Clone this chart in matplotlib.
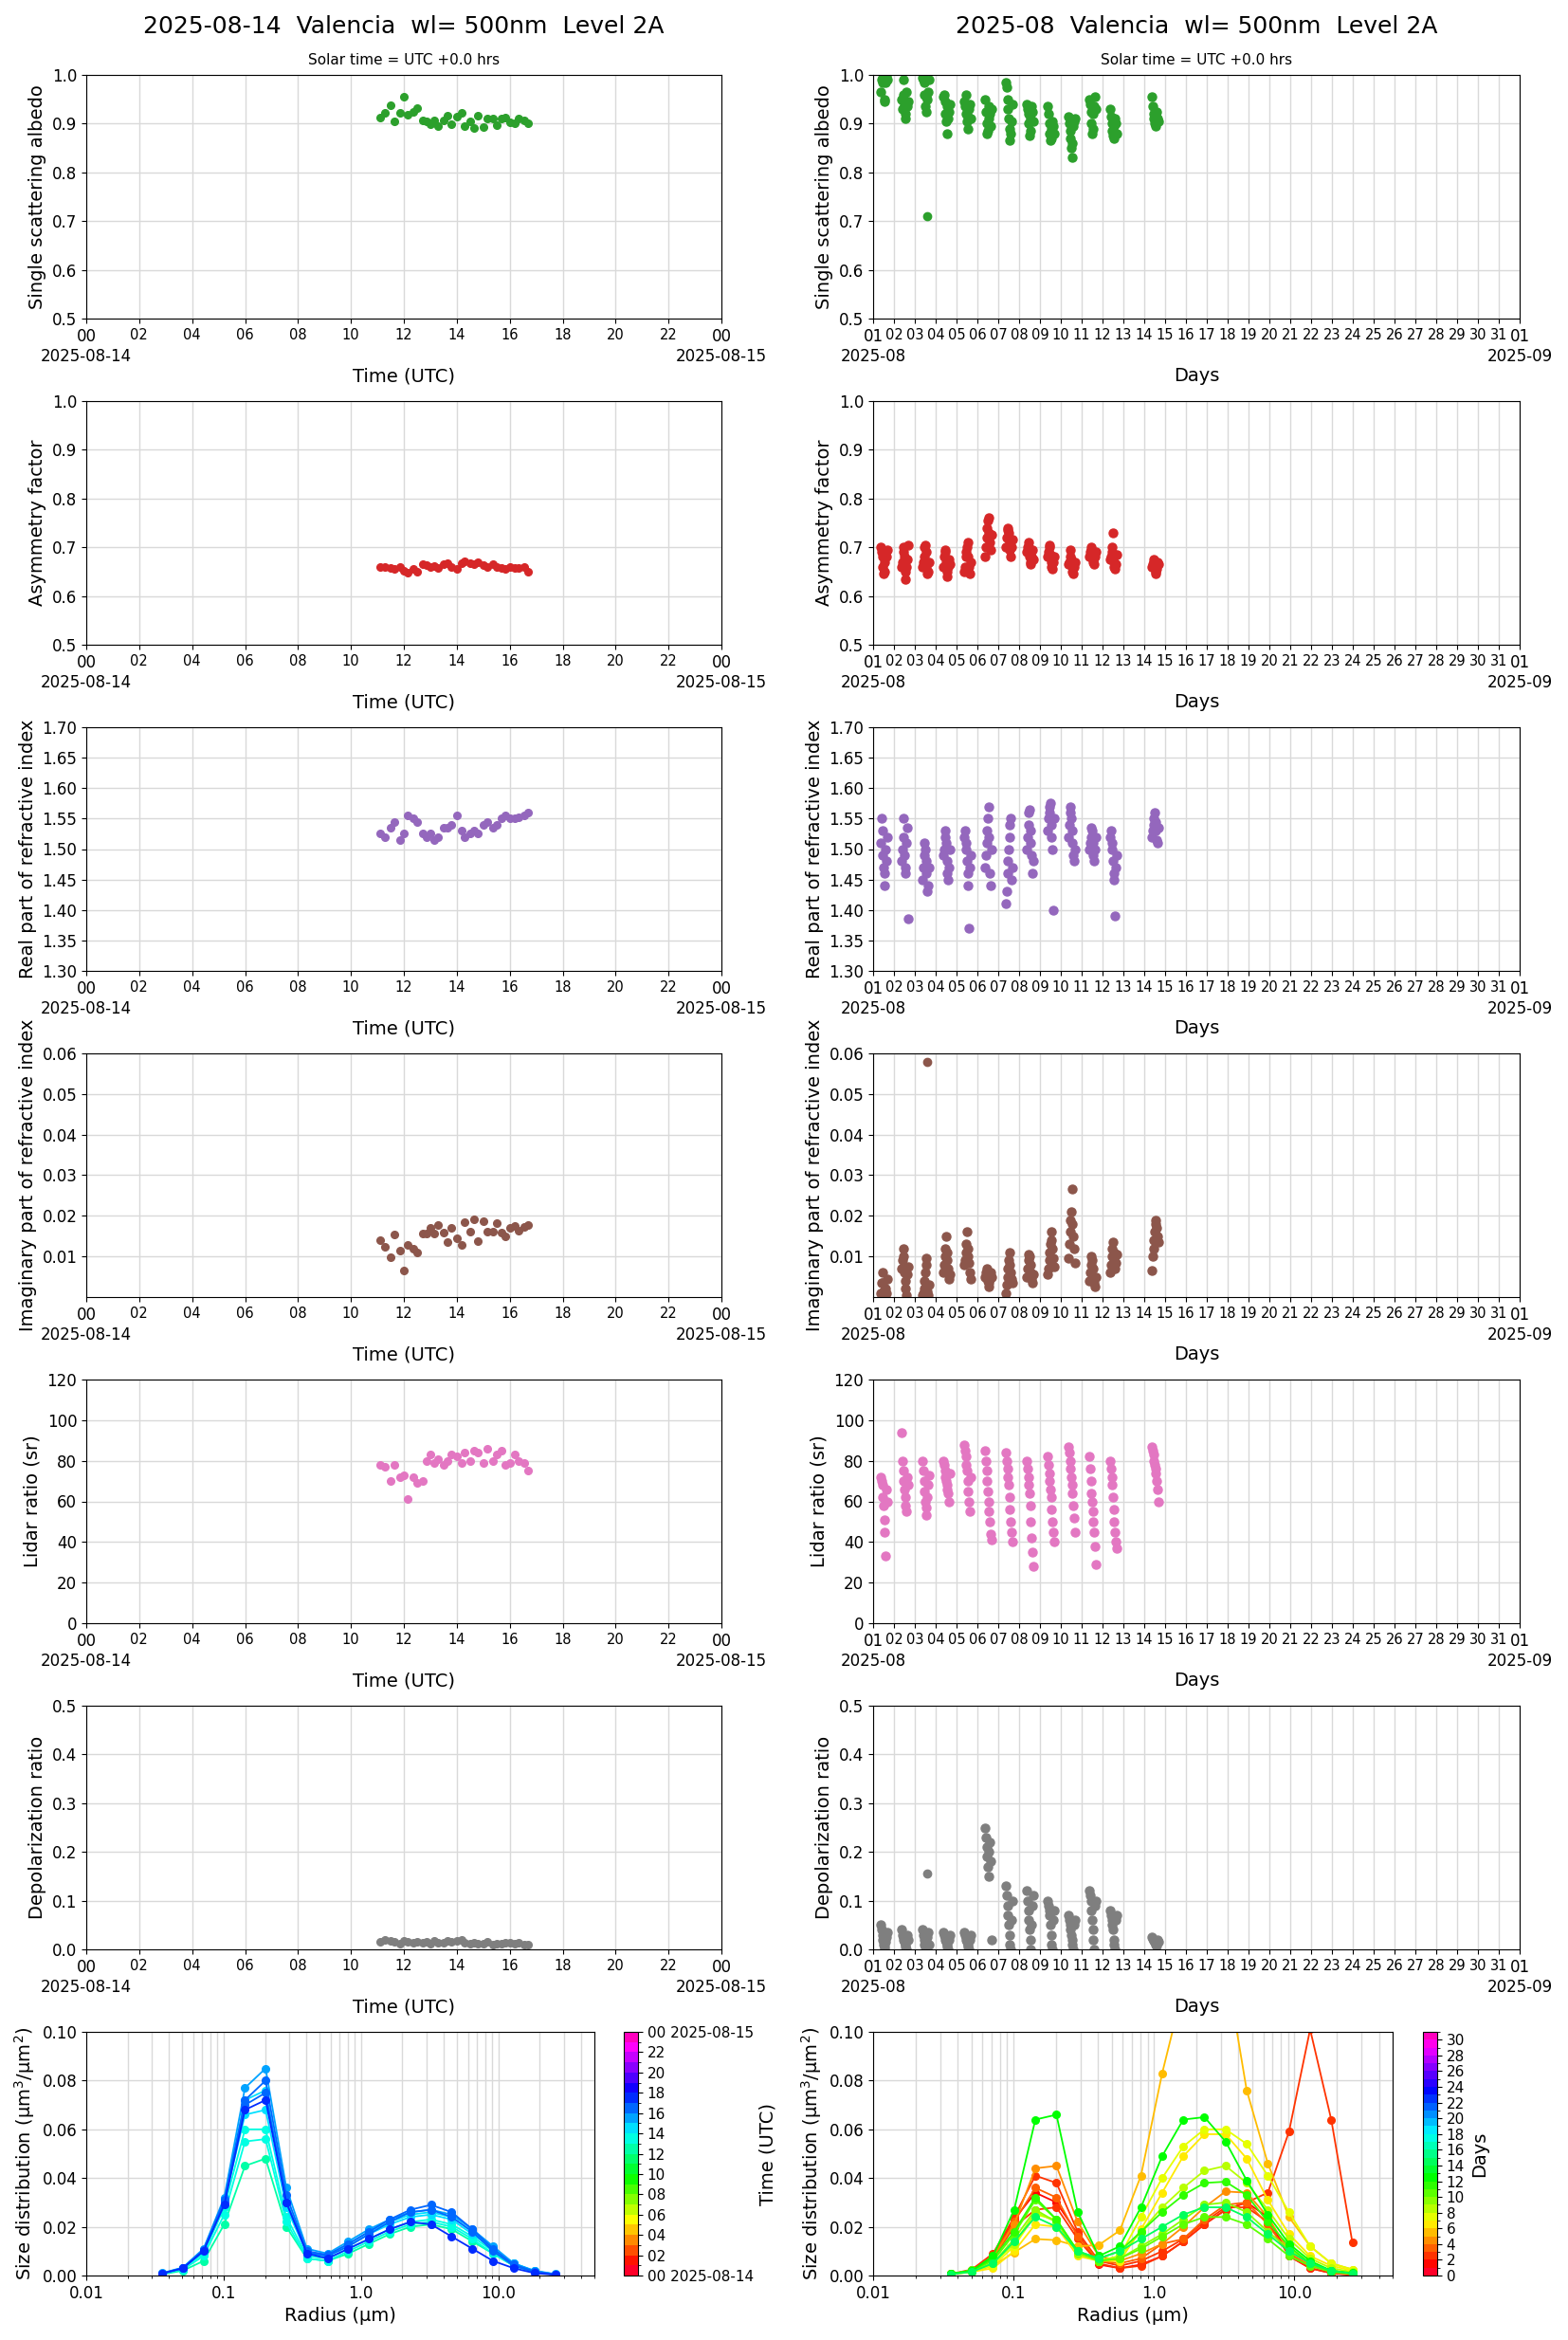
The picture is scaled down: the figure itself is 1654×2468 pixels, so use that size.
import numpy as np
import matplotlib
matplotlib.use("Agg")
import matplotlib.pyplot as plt
from matplotlib.colors import BoundaryNorm
from matplotlib.cm import ScalarMappable

#----- Daily data (2025-08-14) -----
day_hours = [11.1, 11.3, 11.5, 11.65, 11.85, 12.0, 12.15, 12.35, 12.5, 12.7, 12.85, 13.0, 13.15, 13.3,
             13.5, 13.65, 13.8, 14.0, 14.2, 14.3, 14.5, 14.65, 14.8, 15.0, 15.15, 15.35, 15.5, 15.7,
             15.85, 16.0, 16.2, 16.35, 16.55, 16.7]
day_ssa = [.912, .922, .937, .905, .923, .956, .919, .925, .932, .907, .905, .898, .906, .894,
           .907, .917, .899, .914, .922, .894, .905, .891, .917, .893, .910, .910, .897, .910,
           .912, .903, .901, .911, .906, .901]
day_asym = [.66, .66, .658, .655, .66, .652, .648, .655, .65, .665, .663, .66, .662, .658,
            .665, .668, .66, .655, .668, .672, .668, .665, .67, .663, .66, .665, .66, .658,
            .655, .66, .658, .657, .66, .65]
day_real = [1.525, 1.52, 1.535, 1.545, 1.515, 1.525, 1.555, 1.55, 1.545, 1.525, 1.52, 1.525, 1.515, 1.52,
            1.535, 1.535, 1.54, 1.555, 1.53, 1.52, 1.525, 1.53, 1.525, 1.54, 1.545, 1.535, 1.54, 1.55,
            1.555, 1.55, 1.55, 1.552, 1.555, 1.56]
day_imag = [.0141, .0124, .0098, .0155, .0115, .0066, .0129, .0120, .0110, .0157, .0157, .0171, .0157, .0178,
            .0158, .0135, .0171, .0145, .0129, .0185, .0161, .0192, .0138, .0187, .0161, .0161, .0183, .0159,
            .0150, .0171, .0176, .0164, .0173, .0178]
day_lidar = [78, 77, 70, 78, 72, 73, 61, 72, 69, 70, 80, 83, 79, 81, 78, 80, 83, 82, 79, 84, 80, 85,
             84, 79, 86, 80, 83, 85, 78, 79, 83, 80, 79, 75]
day_depol = [.015, .02, .018, .015, .012, .017, .015, .013, .016, .014, .015, .012, .017, .014, .013, .018,
             .015, .017, .02, .014, .012, .013, .011, .012, .015, .01, .012, .011, .013, .014, .012, .013,
             .01, .009]

# size distribution radii (um) and daily curves
radii = [0.0357, 0.0505, 0.0714, 0.101, 0.143, 0.202, 0.286, 0.404, 0.571, 0.808,
         1.143, 1.616, 2.286, 3.232, 4.571, 6.464, 9.142, 12.93, 18.28, 25.86]
sd_day_hours = [12.6, 13.1, 13.6, 14.2, 14.8, 15.4, 16.0, 16.5, 17.0]
sd_day = [
    [.0005, .002, .006, .021, .045, .048, .02, .007, .006, .009, .013, .017, .02, .021, .019, .014, .009, .004, .0015, .0004],
    [.0006, .0025, .008, .025, .055, .056, .022, .007, .006, .01, .014, .018, .021, .022, .02, .015, .009, .004, .0015, .0004],
    [.0007, .003, .009, .028, .06, .06, .024, .008, .007, .011, .015, .019, .022, .023, .021, .016, .01, .0045, .0015, .0005],
    [.0008, .003, .01, .03, .066, .068, .028, .009, .008, .012, .017, .021, .024, .025, .023, .017, .011, .005, .0018, .0005],
    [.0009, .0032, .0105, .031, .072, .076, .031, .0095, .008, .013, .018, .022, .025, .026, .024, .018, .011, .005, .0018, .0005],
    [.001, .0033, .011, .032, .077, .085, .036, .011, .009, .014, .019, .023, .026, .027, .025, .019, .012, .005, .002, .0006],
    [.0009, .003, .0105, .03, .072, .08, .033, .01, .0085, .013, .018, .023, .027, .029, .026, .019, .011, .0045, .0017, .0005],
    [.0009, .003, .0105, .031, .07, .075, .03, .0095, .008, .012, .017, .022, .026, .027, .024, .018, .01, .004, .0015, .0004],
    [.0008, .003, .01, .029, .068, .072, .03, .009, .007, .011, .015, .019, .022, .021, .016, .011, .006, .003, .001, .0003],
]

#----- Monthly data (2025-08) -----
month_days = [1, 2, 3, 4, 5, 6, 7, 8, 9, 10, 11, 12, 14]
month_hours = [8.5, 9.5, 10.5, 11.3, 12.0, 12.7, 13.4, 14.2, 15.2, 16.3]
month_ssa = [
    [.965, .99, .995, .985, .99, .945, .95, .985, .998, .99],
    [.95, .93, .99, .96, .94, .91, .92, .965, .935, .945],
    [.995, .99, .985, .96, .935, .925, .955, .95, .965, .99],
    [.955, .96, .945, .92, .905, .935, .88, .91, .925, .94],
    [.945, .935, .92, .96, .905, .89, .915, .93, .94, .91],
    [.95, .925, .9, .88, .885, .91, .935, .92, .895, .93],
    [.985, .975, .95, .93, .91, .89, .865, .88, .905, .94],
    [.94, .93, .92, .9, .875, .885, .91, .935, .925, .905],
    [.935, .92, .9, .88, .865, .87, .89, .905, .895, .88],
    [.915, .9, .885, .87, .85, .83, .86, .895, .905, .91],
    [.95, .94, .925, .9, .88, .89, .92, .935, .955, .93],
    [.93, .915, .9, .885, .875, .87, .895, .91, .9, .88],
    [.955, .935, .92, .91, .9, .895, .915, .925, .91, .905],
]
month_asym = [
    [.70, .69, .68, .66, .645, .65, .67, .69, .68, .695],
    [.66, .67, .69, .70, .68, .65, .635, .66, .675, .705],
    [.66, .67, .68, .70, .705, .69, .66, .645, .65, .67],
    [.66, .68, .69, .695, .67, .65, .64, .66, .675, .665],
    [.65, .66, .68, .69, .70, .71, .68, .66, .645, .67],
    [.68, .70, .72, .74, .755, .76, .73, .71, .695, .725],
    [.70, .72, .735, .74, .73, .71, .695, .68, .70, .715],
    [.69, .70, .71, .70, .68, .67, .665, .68, .695, .675],
    [.68, .69, .70, .705, .685, .67, .66, .655, .67, .68],
    [.665, .67, .68, .695, .675, .66, .65, .645, .66, .67],
    [.68, .69, .70, .695, .685, .675, .67, .665, .68, .69],
    [.675, .68, .69, .70, .73, .67, .66, .655, .665, .685],
    [.66, .665, .67, .675, .66, .65, .645, .655, .67, .665],
]
month_real = [
    [1.51, 1.55, 1.53, 1.49, 1.47, 1.46, 1.44, 1.50, 1.48, 1.52],
    [1.48, 1.50, 1.55, 1.52, 1.49, 1.47, 1.46, 1.51, 1.535, 1.385],
    [1.45, 1.47, 1.49, 1.51, 1.50, 1.48, 1.46, 1.43, 1.44, 1.47],
    [1.49, 1.50, 1.52, 1.53, 1.51, 1.48, 1.46, 1.45, 1.47, 1.50],
    [1.52, 1.53, 1.51, 1.50, 1.48, 1.46, 1.44, 1.37, 1.47, 1.49],
    [1.47, 1.49, 1.51, 1.53, 1.55, 1.57, 1.52, 1.46, 1.44, 1.50],
    [1.41, 1.43, 1.46, 1.48, 1.50, 1.52, 1.54, 1.55, 1.45, 1.47],
    [1.50, 1.52, 1.54, 1.56, 1.565, 1.53, 1.51, 1.49, 1.46, 1.48],
    [1.53, 1.55, 1.57, 1.56, 1.575, 1.54, 1.52, 1.50, 1.40, 1.55],
    [1.52, 1.54, 1.56, 1.57, 1.55, 1.53, 1.51, 1.49, 1.48, 1.50],
    [1.50, 1.51, 1.52, 1.535, 1.53, 1.51, 1.49, 1.48, 1.50, 1.52],
    [1.52, 1.53, 1.51, 1.50, 1.48, 1.46, 1.45, 1.39, 1.47, 1.49],
    [1.52, 1.53, 1.54, 1.55, 1.56, 1.545, 1.53, 1.515, 1.51, 1.535],
]
month_imag = [
    [.001, .0035, .006, .0035, .0015, .0005, .0, .002, .001, .0045],
    [.007, .009, .012, .01, .006, .004, .002, .0005, .0055, .0075],
    [.0005, .001, .002, .004, .006, .008, .0095, .0015, .0005, .003],
    [.006, .008, .01, .012, .015, .011, .009, .007, .0045, .0055],
    [.008, .009, .011, .013, .016, .012, .01, .0085, .006, .0045],
    [.005, .006, .007, .0055, .004, .0025, .0035, .0045, .006, .005],
    [.001, .003, .005, .007, .009, .011, .008, .006, .0045, .0035],
    [.005, .007, .009, .0105, .01, .008, .006, .0045, .0035, .0055],
    [.0055, .007, .009, .011, .013, .016, .014, .012, .0095, .0075],
    [.0095, .013, .016, .019, .021, .0265, .018, .015, .012, .0085],
    [.004, .006, .008, .01, .009, .007, .005, .0035, .0025, .005],
    [.006, .008, .01, .012, .0135, .011, .009, .007, .0085, .0105],
    [.0065, .01, .012, .014, .016, .018, .019, .017, .015, .0135],
]
month_lidar = [
    [72, 70, 68, 62, 58, 51, 45, 33, 66, 60],
    [94, 80, 75, 70, 66, 62, 58, 55, 72, 68],
    [80, 75, 70, 65, 60, 57, 53, 62, 68, 73],
    [80, 78, 75, 72, 70, 68, 66, 64, 60, 74],
    [88, 85, 82, 78, 75, 70, 65, 60, 55, 72],
    [85, 80, 75, 70, 65, 60, 55, 50, 44, 41],
    [84, 80, 76, 72, 68, 62, 56, 50, 45, 40],
    [80, 76, 72, 68, 64, 58, 50, 42, 35, 28],
    [82, 78, 74, 70, 66, 62, 56, 50, 45, 40],
    [87, 84, 80, 76, 72, 68, 64, 58, 52, 45],
    [82, 76, 70, 64, 60, 55, 50, 45, 38, 29],
    [80, 76, 72, 68, 62, 56, 50, 45, 40, 37],
    [87, 85, 83, 80, 78, 76, 74, 70, 66, 60],
]
month_depol = [
    [.05, .04, .03, .02, .01, .005, .0, .015, .025, .035],
    [.04, .03, .025, .02, .015, .01, .005, .0, .03, .02],
    [.04, .03, .02, .01, .005, .0, .015, .025, .035, .01],
    [.035, .03, .025, .02, .015, .01, .005, .0, .02, .03],
    [.035, .03, .025, .02, .015, .01, .005, .0, .02, .03],
    [.25, .23, .21, .19, .17, .15, .2, .22, .18, .02],
    [.13, .11, .09, .07, .05, .03, .01, .0, .06, .1],
    [.12, .1, .08, .06, .04, .02, .0, .05, .09, .11],
    [.1, .09, .08, .07, .05, .03, .01, .0, .06, .08],
    [.07, .06, .05, .04, .03, .02, .01, .0, .05, .06],
    [.12, .11, .1, .08, .06, .04, .02, .0, .09, .1],
    [.08, .07, .06, .05, .04, .02, .01, .0, .06, .07],
    [.025, .022, .02, .018, .015, .012, .01, .008, .02, .015],
]
# single outliers on day 3 (x = 3.6)
outlier_x = 3.6
outlier_ssa = 0.71
outlier_imag = 0.058
outlier_depol = 0.155

sd_month_days = [1.0, 2.0, 2.0, 3.0, 4.0, 5.0, 6.0, 7.0, 8.0, 9.0, 10.0, 11.0, 12.0, 14.0]
sd_month = [
    [.0005, .002, .008, .023, .034, .03, .017, .0045, .003, .0045, .008, .014, .021, .027, .03, .024, .008, .003, .001, .0003],
    [.0006, .002, .007, .02, .027, .028, .015, .005, .003, .004, .008, .014, .021, .027, .03, .034, .059, .101, .064, .0135],
    [.0006, .0025, .009, .024, .041, .038, .018, .006, .004, .006, .01, .015, .022, .028, .028, .022, .008, .003, .001, .0003],
    [.0006, .002, .008, .022, .036, .032, .016, .006, .005, .007, .013, .015, .023, .029, .03, .021, .009, .004, .0015, .0004],
    [.0007, .002, .0075, .021, .044, .045, .022, .008, .006, .009, .013, .02, .028, .0345, .034, .024, .01, .0045, .0015, .0005],
    [.0005, .0015, .004, .0095, .015, .0145, .012, .0125, .0185, .041, .083, .118, .135, .128, .076, .046, .024, .012, .005, .0025],
    [.0004, .0015, .003, .01, .021, .02, .008, .006, .006, .019, .034, .049, .058, .058, .048, .031, .017, .008, .004, .002],
    [.0005, .002, .004, .012, .025, .023, .009, .006, .008, .024, .04, .053, .06, .06, .054, .041, .026, .012, .005, .0025],
    [.0005, .002, .005, .013, .026, .022, .01, .006, .008, .018, .028, .036, .043, .045, .038, .027, .015, .007, .003, .0015],
    [.0005, .002, .005, .015, .027, .022, .009, .006, .007, .012, .017, .023, .029, .03, .026, .018, .011, .005, .002, .001],
    [.0006, .0022, .006, .017, .031, .023, .01, .006, .007, .011, .016, .021, .024, .024, .021, .015, .008, .004, .0015, .0006],
    [.0006, .002, .007, .018, .032, .023, .01, .007, .01, .018, .026, .033, .038, .0385, .033, .022, .012, .005, .002, .0008],
    [.0007, .002, .008, .027, .064, .066, .026, .008, .012, .028, .049, .064, .065, .055, .039, .025, .013, .006, .002, .001],
    [.0005, .0015, .005, .014, .024, .02, .01, .007, .01, .015, .02, .025, .028, .028, .024, .017, .01, .005, .002, .0008],
]

#----- Panel definitions -----
panels = [
    ("Single scattering albedo", day_ssa, month_ssa, "tab:green", (0.5, 1.0), np.arange(0.5, 1.01, 0.1), "%.1f"),
    ("Asymmetry factor", day_asym, month_asym, "tab:red", (0.5, 1.0), np.arange(0.5, 1.01, 0.1), "%.1f"),
    ("Real part of refractive index", day_real, month_real, "tab:purple", (1.3, 1.7), np.arange(1.3, 1.701, 0.05), "%.2f"),
    ("Imaginary part of refractive index", day_imag, month_imag, "tab:brown", (0.0, 0.06), np.arange(0.01, 0.061, 0.01), "%.2f"),
    ("Lidar ratio (sr)", day_lidar, month_lidar, "tab:pink", (0, 120), np.arange(0, 121, 20), "%d"),
    ("Depolarization ratio", day_depol, month_depol, "tab:gray", (0.0, 0.5), np.arange(0.0, 0.51, 0.1), "%.1f"),
]

W, H = 1654, 2468
fig = plt.figure(figsize=(W / 100, H / 100), dpi=100)
grid_kw = dict(color="#d9d9d9", linewidth=1.0)

def row_rect(i, x0, w):
    top = 79 + 344 * i
    return [x0 / W, 1 - (top + 257) / H, w / W, 257 / H]

day_ticks = list(range(0, 25, 2))
day_labels = ["%02d" % (h % 24) for h in day_ticks]
day_labels[0] = "00\n2025-08-14"
day_labels[-1] = "00\n2025-08-15"

mon_ticks = list(range(1, 33))
mon_labels = ["%02d" % d for d in range(1, 32)] + ["01\n2025-09"]
mon_labels[0] = "01\n2025-08"

for i, (ylab, dvals, mvals, col, ylim, yt, fmt) in enumerate(panels):
    #--- left: daily ---
    ax = fig.add_axes(row_rect(i, 91, 670))
    ax.plot(day_hours, dvals, "o", color=col, ms=5.5)
    ax.set_xlim(0, 24)
    ax.set_ylim(*ylim)
    ax.set_xticks(day_ticks)
    ax.set_xticklabels(day_labels, fontsize=10.5)
    for k in (0, -1):
        ax.get_xticklabels()[k].set_fontsize(12)
    ax.set_yticks(yt)
    ax.set_yticklabels([fmt % v for v in yt], fontsize=12)
    ax.grid(True, **grid_kw)
    ax.set_axisbelow(True)
    ax.set_ylabel(ylab, fontsize=14)
    ax.set_xlabel("Time (UTC)", fontsize=14)
    ax.xaxis.set_label_coords(0.5, -0.2)
    if i == 0:
        ax.set_title("Solar time = UTC +0.0 hrs", fontsize=11, pad=8)
        fig.text((91 + 335) / W, 1 - 28 / H, "2025-08-14  Valencia  wl= 500nm  Level 2A", ha="center", va="center", fontsize=18)

    #--- right: monthly ---
    ax = fig.add_axes(row_rect(i, 921, 682))
    for d, vals in zip(month_days, mvals):
        x = [d + h / 24 for h in month_hours]
        ax.plot(x, vals, "o", color=col, ms=6.5)
    if i == 0:
        ax.plot([outlier_x], [outlier_ssa], "o", color=col, ms=6)
    if i == 3:
        ax.plot([outlier_x], [outlier_imag], "o", color=col, ms=6)
    if i == 5:
        ax.plot([outlier_x], [outlier_depol], "o", color=col, ms=6)
    ax.set_xlim(1, 32)
    ax.set_ylim(*ylim)
    ax.set_xticks(mon_ticks)
    ax.set_xticklabels(mon_labels, fontsize=10.5)
    for k in (0, -1):
        ax.get_xticklabels()[k].set_fontsize(12)
    ax.set_yticks(yt)
    ax.set_yticklabels([fmt % v for v in yt], fontsize=12)
    ax.grid(True, **grid_kw)
    ax.set_axisbelow(True)
    ax.set_ylabel(ylab, fontsize=14)
    ax.set_xlabel("Days", fontsize=14)
    ax.xaxis.set_label_coords(0.5, -0.2)
    if i == 0:
        ax.set_title("Solar time = UTC +0.0 hrs", fontsize=11, pad=8)
        fig.text((921 + 341) / W, 1 - 28 / H, "2025-08  Valencia  wl= 500nm  Level 2A", ha="center", va="center", fontsize=18)

#----- Size distributions -----
def size_panel(x0, w, cb_x0, curves, cvals, nlev, cb_ticks, cb_labels, cb_label):
    cmap = plt.get_cmap("gist_rainbow", nlev)
    norm = BoundaryNorm(np.arange(0, nlev + 1), cmap.N)
    ax = fig.add_axes(row_rect(6, x0, w))
    for c, vals in zip(cvals, curves):
        ax.plot(radii, vals, "o-", color=cmap(norm(c)), ms=5.5, lw=1.3)
    ax.set_xscale("log")
    ax.set_xlim(0.01, 50)
    ax.set_ylim(0, 0.1)
    ax.set_xticks([0.01, 0.1, 1.0, 10.0])
    ax.set_xticklabels(["0.01", "0.1", "1.0", "10.0"], fontsize=12)
    ax.set_yticks(np.arange(0, 0.101, 0.02))
    ax.set_yticklabels(["%.2f" % v for v in np.arange(0, 0.101, 0.02)], fontsize=12)
    ax.grid(True, which="both", **grid_kw)
    ax.set_axisbelow(True)
    ax.set_xlabel("Radius (\u03bcm)", fontsize=14)
    ax.set_ylabel("Size distribution (\u03bcm$^3$/\u03bcm$^2$)", fontsize=14)
    cax = fig.add_axes([cb_x0 / W, row_rect(6, 0, 0)[1], 15 / W, 257 / H])
    cb = fig.colorbar(ScalarMappable(norm=norm, cmap=cmap), cax=cax)
    cb.set_ticks(cb_ticks)
    cb.set_ticklabels(cb_labels)
    cb.ax.tick_params(labelsize=11)
    cb.set_label(cb_label, fontsize=14)
    return ax

hr_ticks = list(range(0, 25, 2))
hr_labels = ["%02d" % (h % 24) for h in hr_ticks]
hr_labels[0] = "00 2025-08-14"
hr_labels[-1] = "00 2025-08-15"
size_panel(91, 536, 658, sd_day, sd_day_hours, 24, hr_ticks, hr_labels, "Time (UTC)")
size_panel(921, 548, 1501, sd_month, sd_month_days, 31, list(range(0, 31, 2)),
           [str(d) for d in range(0, 31, 2)], "Days")

fig.savefig("out.png", dpi=100)
